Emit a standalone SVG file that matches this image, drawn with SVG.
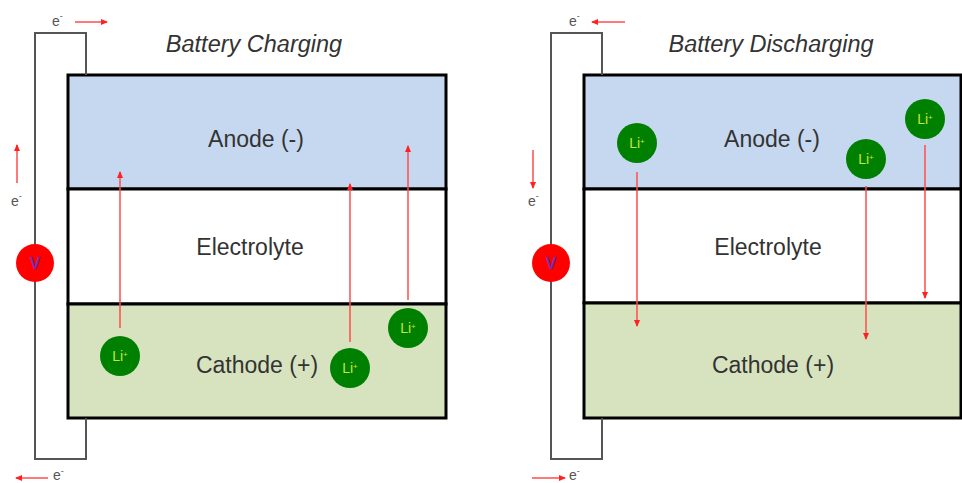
<svg xmlns="http://www.w3.org/2000/svg" width="962" height="483" viewBox="0 0 962 483">
<style>
.box{stroke:#000;stroke-width:3;}
.anode{fill:#c6d8ef;}
.elec{fill:#ffffff;}
.cath{fill:#d7e3bf;}
.lbl{font-family:"Liberation Sans",Arial,sans-serif;font-size:23px;fill:#333;text-anchor:middle;}
.title{font-family:"Liberation Sans",Arial,sans-serif;font-size:23.5px;font-style:italic;fill:#333;text-anchor:middle;}
.wire{fill:none;stroke:#555;stroke-width:2;}
.ion{fill:#008000;}
.iont{font-family:"Liberation Sans",Arial,sans-serif;font-size:14px;fill:#c6e63a;text-anchor:middle;}
.volt{fill:#ff0000;}
.voltt{font-family:"Liberation Sans",Arial,sans-serif;font-size:16px;font-weight:bold;fill:#6a2fb0;text-anchor:middle;}
.flow{stroke:#ff4d4d;stroke-width:1.5;fill:none;marker-end:url(#ah);}
.et{font-family:"Liberation Sans",Arial,sans-serif;font-size:14px;fill:#555;}
</style>
<defs>
<marker id="ah" markerWidth="8" markerHeight="8" refX="6" refY="4" orient="auto" markerUnits="userSpaceOnUse">
<path d="M0,1 L7,4 L0,7 Z" fill="#ff2020"/>
</marker>
</defs>

<g id="title-charging"><text class="title" x="254" y="52">Battery Charging</text></g>
<g id="title-discharging"><text class="title" x="771" y="52">Battery Discharging</text></g>

<g id="cell-charging">
<g id="anode-l"><rect class="box anode" x="68" y="75" width="378" height="114"/><text class="lbl" x="256" y="147">Anode (-)</text></g>
<g id="electrolyte-l"><rect class="box elec" x="68" y="189" width="378" height="115"/><text class="lbl" x="250" y="255">Electrolyte</text></g>
<g id="cathode-l"><rect class="box cath" x="68" y="304" width="378" height="114"/><text class="lbl" x="257" y="373">Cathode (+)</text></g>
</g>

<g id="cell-discharging">
<g id="anode-r"><rect class="box anode" x="584" y="75" width="377" height="114"/><text class="lbl" x="772" y="147">Anode (-)</text></g>
<g id="electrolyte-r"><rect class="box elec" x="584" y="189" width="377" height="114"/><text class="lbl" x="768" y="255">Electrolyte</text></g>
<g id="cathode-r"><rect class="box cath" x="584" y="303" width="377" height="115"/><text class="lbl" x="773" y="373">Cathode (+)</text></g>
</g>

<g id="connectors">
<polyline class="wire" points="86,75 86,33 35,33 35,459 86,459 86,418"/>
<polyline class="wire" points="602,75 602,33 551,33 551,459 602,459 602,418"/>
<line class="flow" x1="75" y1="22" x2="107" y2="22"/>
<line class="flow" x1="17" y1="183" x2="17" y2="145"/>
<line class="flow" x1="48" y1="478" x2="16" y2="478"/>
<line class="flow" x1="625" y1="22" x2="592" y2="22"/>
<line class="flow" x1="533" y1="150" x2="533" y2="188"/>
<line class="flow" x1="532" y1="478" x2="565" y2="478"/>
<line class="flow" x1="120" y1="328" x2="120" y2="172"/>
<line class="flow" x1="350" y1="342" x2="350" y2="184"/>
<line class="flow" x1="408" y1="300" x2="408" y2="146"/>
<line class="flow" x1="637" y1="172" x2="637" y2="326"/>
<line class="flow" x1="866" y1="186" x2="866" y2="339"/>
<line class="flow" x1="925" y1="145" x2="925" y2="298"/>
</g>

<g id="e-labels">
<text class="et" x="52" y="26">e<tspan font-size="9" dy="-7">-</tspan></text>
<text class="et" x="11" y="206">e<tspan font-size="9" dy="-7">-</tspan></text>
<text class="et" x="53" y="480" font-size="13">e<tspan font-size="9" dy="-6">-</tspan></text>
<text class="et" x="569" y="26">e<tspan font-size="9" dy="-7">-</tspan></text>
<text class="et" x="528" y="206">e<tspan font-size="9" dy="-7">-</tspan></text>
<text class="et" x="569" y="480" font-size="13">e<tspan font-size="9" dy="-6">-</tspan></text>
</g>

<g id="voltmeter-l"><circle class="volt" cx="35" cy="263" r="19"/><text class="voltt" x="35" y="269">V</text></g>
<g id="voltmeter-r"><circle class="volt" cx="551" cy="263" r="19"/><text class="voltt" x="551" y="269">V</text></g>

<g id="li-l1"><circle class="ion" cx="120" cy="356" r="20"/><text class="iont" x="120" y="361">Li<tspan font-size="8" dy="-4">+</tspan></text></g>
<g id="li-l2"><circle class="ion" cx="350" cy="368" r="20"/><text class="iont" x="350" y="373">Li<tspan font-size="8" dy="-4">+</tspan></text></g>
<g id="li-l3"><circle class="ion" cx="408" cy="328" r="20"/><text class="iont" x="408" y="333">Li<tspan font-size="8" dy="-4">+</tspan></text></g>
<g id="li-r1"><circle class="ion" cx="637" cy="143" r="20"/><text class="iont" x="637" y="148">Li<tspan font-size="8" dy="-4">+</tspan></text></g>
<g id="li-r2"><circle class="ion" cx="866" cy="159" r="20"/><text class="iont" x="866" y="164">Li<tspan font-size="8" dy="-4">+</tspan></text></g>
<g id="li-r3"><circle class="ion" cx="925" cy="119" r="20"/><text class="iont" x="925" y="124">Li<tspan font-size="8" dy="-4">+</tspan></text></g>
</svg>
